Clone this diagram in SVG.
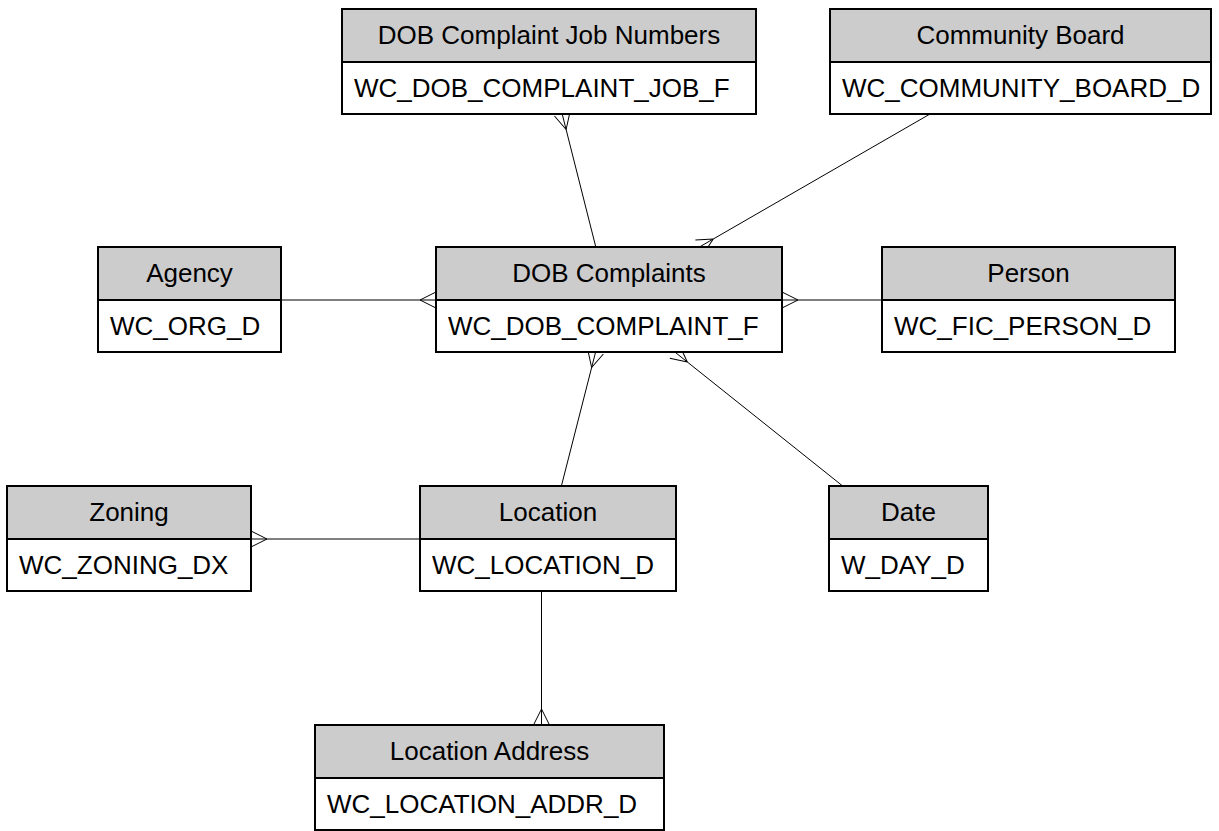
<svg xmlns="http://www.w3.org/2000/svg" width="1219" height="831" viewBox="0 0 1219 831">
<defs>
<style>
.box rect{stroke:#000;stroke-width:2}
.hd{fill:#cccccc}
.bd{fill:#ffffff}
.t{font-family:"Liberation Sans",Arial,sans-serif;font-size:26px;fill:#000}
.c{text-anchor:middle}
.conn path{fill:none;stroke:#000;stroke-width:1}
</style>
<marker id="many" markerUnits="userSpaceOnUse" markerWidth="20" markerHeight="20" viewBox="-18 -10 20 20" refX="0" refY="0" orient="auto" overflow="visible">
<path d="M-16,0 L0,-8 M-16,0 L0,8" fill="none" stroke="#000" stroke-width="1"/>
</marker>
</defs>
<rect width="1219" height="831" fill="#ffffff"/>
<g class="conn" id="connectors">
<path d="M595.8,247 L562.2,114" marker-end="url(#many)"/>
<path d="M930,114 L699.4,247" marker-end="url(#many)"/>
<path d="M281,300 L436,300" marker-end="url(#many)"/>
<path d="M882,300 L782,300" marker-end="url(#many)"/>
<path d="M561.4,486 L595.6,352" marker-end="url(#many)"/>
<path d="M842.7,486 L674.8,352" marker-end="url(#many)"/>
<path d="M420,539 L251,539" marker-end="url(#many)"/>
<path d="M541.5,591 L541.5,725" marker-end="url(#many)"/>
</g>
<g class="box" id="node-job">
<rect class="bd" x="342" y="9" width="414" height="105"/>
<rect class="hd" x="342" y="9" width="414" height="53"/>
<text class="t c" x="549" y="43.5">DOB Complaint Job Numbers</text>
<text class="t" x="354" y="97">WC_DOB_COMPLAINT_JOB_F</text>
</g>
<g class="box" id="node-cb">
<rect class="bd" x="830" y="9" width="381" height="105"/>
<rect class="hd" x="830" y="9" width="381" height="53"/>
<text class="t c" x="1020.5" y="43.5">Community Board</text>
<text class="t" x="842" y="97">WC_COMMUNITY_BOARD_D</text>
</g>
<g class="box" id="node-agency">
<rect class="bd" x="98" y="247" width="183" height="105"/>
<rect class="hd" x="98" y="247" width="183" height="53"/>
<text class="t c" x="189.5" y="281.5">Agency</text>
<text class="t" x="110" y="335">WC_ORG_D</text>
</g>
<g class="box" id="node-dob">
<rect class="bd" x="436" y="247" width="346" height="105"/>
<rect class="hd" x="436" y="247" width="346" height="53"/>
<text class="t c" x="609" y="281.5">DOB Complaints</text>
<text class="t" x="448" y="335">WC_DOB_COMPLAINT_F</text>
</g>
<g class="box" id="node-person">
<rect class="bd" x="882" y="247" width="293" height="105"/>
<rect class="hd" x="882" y="247" width="293" height="53"/>
<text class="t c" x="1028.5" y="281.5">Person</text>
<text class="t" x="894" y="335">WC_FIC_PERSON_D</text>
</g>
<g class="box" id="node-zoning">
<rect class="bd" x="7" y="486" width="244" height="105"/>
<rect class="hd" x="7" y="486" width="244" height="53"/>
<text class="t c" x="129" y="520.5">Zoning</text>
<text class="t" x="19" y="574">WC_ZONING_DX</text>
</g>
<g class="box" id="node-location">
<rect class="bd" x="420" y="486" width="256" height="105"/>
<rect class="hd" x="420" y="486" width="256" height="53"/>
<text class="t c" x="548" y="520.5">Location</text>
<text class="t" x="432" y="574">WC_LOCATION_D</text>
</g>
<g class="box" id="node-date">
<rect class="bd" x="829" y="486" width="159" height="105"/>
<rect class="hd" x="829" y="486" width="159" height="53"/>
<text class="t c" x="908.5" y="520.5">Date</text>
<text class="t" x="841" y="574">W_DAY_D</text>
</g>
<g class="box" id="node-locaddr">
<rect class="bd" x="315" y="725" width="349" height="105"/>
<rect class="hd" x="315" y="725" width="349" height="53"/>
<text class="t c" x="489.5" y="759.5">Location Address</text>
<text class="t" x="327" y="813">WC_LOCATION_ADDR_D</text>
</g>
</svg>
